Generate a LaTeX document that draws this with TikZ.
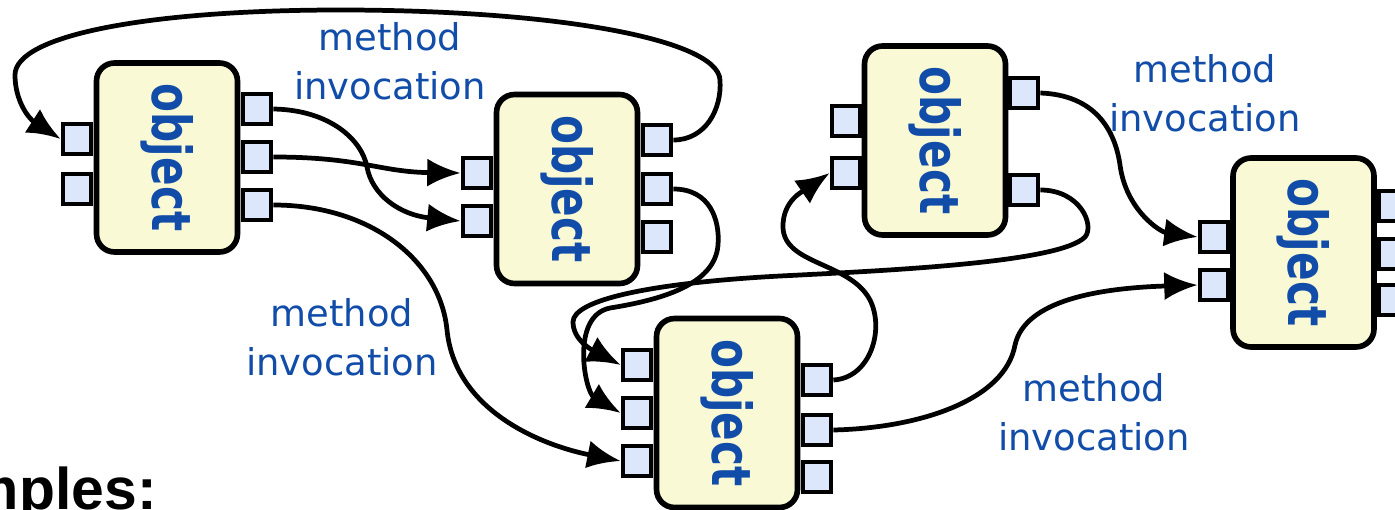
\documentclass[tikz,border=0pt]{standalone}
\usepackage{fontspec}
\usepackage{graphicx}
\setmainfont{DejaVu Sans}
\newfontfamily\diapo{Liberation Sans}
\usetikzlibrary{arrows.meta}
\definecolor{azul}{RGB}{16,76,168}
\definecolor{amarillo}{RGB}{250,249,213}
\definecolor{celeste}{RGB}{221,231,252}

\begin{document}
\begin{tikzpicture}[x = 0.02cm, y = -0.02cm,
    objeto/.style = {draw, fill = amarillo, line width = 3.2pt, rounded corners = 0.36cm, rotate = -90,
                     minimum width = 3.78cm, minimum height = 2.82cm, text = azul,
                     font = \bfseries\fontsize{24}{28}\selectfont},
    puerto/.style = {draw, fill = celeste, line width = 2.7pt, minimum width = 0.56cm, minimum height = 0.6cm, inner sep = 0pt},
    rotulo/.style = {text = azul, align = center, font = \fontsize{21}{28}\selectfont},
    llamada/.style = {line width = 2.7pt, -{Latex[length = 19pt, width = 16pt]}}]
	\useasboundingbox (0,0) rectangle (1395,510);
	\clip (0,0) rectangle (1395,510);
	% puertos
	\foreach \n/\x/\y in {aL1/77/139, aL2/77/189, aR1/257/109, aR2/257/157, aR3/257/205,
	                      bL1/477/173, bL2/477/221, bR1/657/140, bR2/657/189, bR3/657/237,
	                      cL1/846/121, cL2/846/173, cR1/1024/93, cR2/1024/190,
	                      dL1/637/365, dL2/637/413, dL3/637/461, dR1/817/380, dR2/817/430, dR3/817/477,
	                      eL1/1214/237, eL2/1214/285, eR1/1393/206, eR2/1393/254, eR3/1393/300}
		\node[puerto] (\n) at (\x,\y) {};
	% objetos
	\node[objeto] (a) at (167,157.5) {\scalebox{1}[1.28]{object}};
	\node[objeto] (b) at (567,189) {\scalebox{1}[1.28]{object}};
	\node[objeto] (c) at (935,140.5) {\scalebox{1}[1.28]{object}};
	\node[objeto] (d) at (727,413) {\scalebox{1}[1.28]{object}};
	\node[objeto] (e) at (1303.5,252.5) {\scalebox{1}[1.28]{object}};
	\node[rotulo] (m1) at (390,61) {method\\invocation};
	\node[rotulo] (m2) at (342,337) {method\\invocation};
	\node[rotulo] (m3) at (1205,93) {method\\invocation};
	\node[rotulo] (m4) at (1094,412) {method\\invocation};
	% llamadas
	\draw[llamada] (bR1.east) .. controls (705,140) and (722,110) .. (720,80) .. controls (718,40) and (560,10) .. (340,10)
		.. controls (150,10) and (15,35) .. (15,75) .. controls (15,100) and (28,118) .. (aL1.west);
	\draw[llamada] (aR1.east) .. controls (330,110) and (362,140) .. (367,167) .. controls (372,195) and (400,215) .. (bL2.west);
	\draw[llamada] (aR2.east) .. controls (360,157) and (380,172) .. (bL1.west);
	\draw[llamada] (aR3.east) .. controls (370,205) and (440,260) .. (447,330) .. controls (455,410) and (540,445) .. (dL3.west);
	\draw[llamada] (bR2.east) .. controls (710,189) and (720,220) .. (718,245) .. controls (715,285) and (660,300) .. (610,308)
		.. controls (570,316) and (585,392) .. (dL2.west);
	\draw[llamada] (cR2.east) .. controls (1080,190) and (1095,225) .. (1085,237) .. controls (1060,262) and (900,270) .. (780,276)
		.. controls (650,283) and (573,300) .. (573,322) .. controls (573,340) and (592,350) .. (dL1.west);
	\draw[llamada] (dR1.east) .. controls (870,378) and (885,330) .. (870,300) .. controls (850,262) and (785,265) .. (783,228)
		.. controls (782,200) and (805,190) .. (cL2.west);
	\draw[llamada] (dR2.east) .. controls (920,428) and (1005,400) .. (1015,345) .. controls (1025,300) and (1100,288) .. (eL2.west);
	\draw[llamada] (cR1.east) .. controls (1095,95) and (1115,130) .. (1120,165) .. controls (1126,210) and (1160,232) .. (eL1.west);
	\node[anchor = base west, font = \diapo\bfseries\fontsize{33.5}{40}\selectfont] (titulo) at (-144,509) {Examples:};
\end{tikzpicture}
\end{document}
